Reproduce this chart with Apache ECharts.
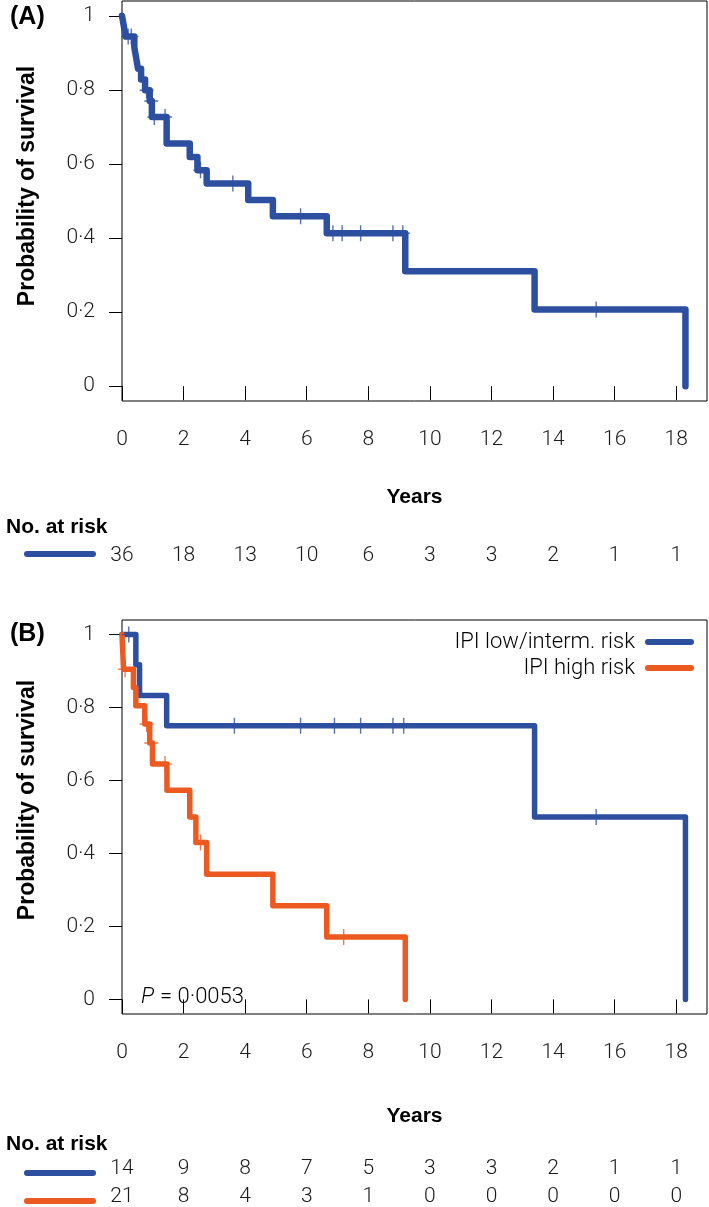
<!DOCTYPE html>
<html>
<head>
<meta charset="utf-8">
<script src="https://cdn.jsdelivr.net/npm/echarts@6/dist/echarts.min.js"></script>
<style>
html,body{margin:0;padding:0;background:#fff;}
#chart{width:709px;height:1207px;}
</style>
</head>
<body>
<div id="chart"></div>
<script>
// ---- tick labels ----
const xTicks = [0, 2, 4, 6, 8, 10, 12, 14, 16, 18];
const yTicks = [0, 0.2, 0.4, 0.6, 0.8, 1];
const yTickLabels = ['0', '0·2', '0·4', '0·6', '0·8', '1'];

// ---- panel A: all patients ----
const allTimes = [0, 0.06, 0.12, 0.4, 0.46, 0.52, 0.62, 0.75, 0.9, 0.97, 1.45, 2.2, 2.45, 2.75, 4.1, 4.9, 6.65, 9.2, 13.4, 18.3];
const allSurv  = [1, 0.972, 0.944, 0.915, 0.886, 0.857, 0.828, 0.799, 0.770, 0.727, 0.655, 0.619, 0.583, 0.547, 0.503, 0.459, 0.413, 0.310, 0.207, 0];
const allCensorTimes = [0.2, 0.3, 0.8, 0.95, 1.05, 1.4, 2.55, 3.6, 5.8, 6.85, 7.15, 7.75, 8.8, 9.12, 15.4];
const allCensorSurv  = [0.944, 0.944, 0.799, 0.770, 0.727, 0.727, 0.583, 0.547, 0.459, 0.413, 0.413, 0.413, 0.413, 0.413, 0.207];
const riskAll = [36, 18, 13, 10, 6, 3, 3, 2, 1, 1];

// ---- panel B: IPI low/interm. risk ----
const lowTimes = [0, 0.45, 0.57, 1.45, 13.4, 18.3];
const lowSurv  = [1, 0.917, 0.833, 0.75, 0.5, 0];
const lowCensorTimes = [0.22, 3.65, 5.8, 6.9, 7.75, 8.8, 9.15, 15.4];
const lowCensorSurv  = [1, 0.75, 0.75, 0.75, 0.75, 0.75, 0.75, 0.5];
const riskLow = [14, 9, 8, 7, 5, 3, 3, 2, 1, 1];

// ---- panel B: IPI high risk ----
const highTimes = [0, 0.05, 0.37, 0.45, 0.74, 0.9, 0.99, 1.46, 2.2, 2.4, 2.75, 4.9, 6.65, 9.2];
const highSurv  = [1, 0.905, 0.855, 0.805, 0.755, 0.703, 0.645, 0.573, 0.50, 0.43, 0.343, 0.257, 0.171, 0];
const highCensorTimes = [0.1, 0.8, 0.95, 1.4, 2.55, 7.2];
const highCensorSurv  = [0.905, 0.755, 0.703, 0.645, 0.43, 0.171];
const riskHigh = [21, 8, 4, 3, 1, 0, 0, 0, 0, 0];

const seriesNames = ['IPI low/interm. risk', 'IPI high risk'];
const pText = '= 0·0053';

// ---- styles ----
const BLUE = '#2D4FA0';
const ORANGE = '#EC5A22';
const TXT = '#1a1a1a';
const LIGHT = "Roboto, 'Liberation Sans', Arial, sans-serif";
const BOLD = "'Liberation Sans', Arial, sans-serif";
const PLUS = 'path://M0,7.3H6.3V0H7.7V7.3H14V8.7H7.7V16H6.3V8.7H0Z';

const zip = (a, b) => a.map((v, i) => [v, b[i]]);

const GA = {left: 122, top: 1, width: 585, height: 400};
const GB = {left: 122, top: 620, width: 585, height: 400};

function mainX(grid) {
  return {
    type: 'value', gridIndex: grid, min: 0, max: 19, interval: 2,
    axisLine: {show: false},
    splitLine: {show: false},
    axisTick: {show: true, customValues: xTicks, length: 14, lineStyle: {color: '#000', width: 1}},
    axisLabel: {show: true, customValues: xTicks, margin: 28, color: TXT, fontSize: 21, fontFamily: LIGHT, fontWeight: 300,
      formatter: v => (xTicks.indexOf(v) >= 0 ? String(v) : '')}
  };
}
function riskX(grid, arr, offset) {
  return {
    type: 'value', gridIndex: grid, min: 0, max: 19, interval: 2, position: 'bottom', offset: offset,
    axisLine: {show: false}, axisTick: {show: false}, splitLine: {show: false},
    axisLabel: {show: true, customValues: xTicks, margin: 9, color: TXT, fontSize: 21, fontFamily: LIGHT, fontWeight: 300,
      formatter: v => { const i = xTicks.indexOf(v); return i >= 0 ? String(arr[i]) : ''; }}
  };
}
function mainY(grid) {
  return {
    type: 'value', gridIndex: grid, min: -0.04, max: 1.04,
    axisLine: {show: false}, splitLine: {show: false},
    axisTick: {show: true, customValues: yTicks, length: 13, lineStyle: {color: '#000', width: 1}},
    axisLabel: {show: true, customValues: yTicks, margin: 27, color: TXT, fontSize: 21, fontFamily: LIGHT, fontWeight: 300,
      formatter: v => { const i = yTicks.findIndex(t => Math.abs(t - v) < 1e-6); return i >= 0 ? yTickLabels[i] : ''; }}
  };
}
function kmLine(name, xi, yi, t, s, color, w) {
  return {type: 'line', name, xAxisIndex: xi, yAxisIndex: yi, data: zip(t, s), step: 'end',
    symbol: 'none', showSymbol: false, silent: true,
    lineStyle: {color, width: w, cap: 'round', join: 'round'}, z: 3};
}
function censor(xi, yi, t, s, color) {
  return {type: 'scatter', xAxisIndex: xi, yAxisIndex: yi, data: zip(t, s), symbol: PLUS,
    symbolSize: [14, 16], itemStyle: {color}, silent: true, z: 5};
}
function txt(x, y, text, font, align, extra) {
  return Object.assign({type: 'text', x, y, silent: true,
    style: {text, font, fill: '#000', textAlign: align || 'left', textVerticalAlign: 'middle'}}, extra || {});
}
function swatch(x1, x2, y, color) {
  return {type: 'line', silent: true, shape: {x1, y1: y, x2, y2: y},
    style: {stroke: color, lineWidth: 6, lineCap: 'round'}};
}

const option = {
  animation: false,
  backgroundColor: '#fff',
  grid: [
    Object.assign({show: true, borderColor: '#000', borderWidth: 1, backgroundColor: 'transparent'}, GA),
    Object.assign({show: true, borderColor: '#000', borderWidth: 1, backgroundColor: 'transparent'}, GB)
  ],
  xAxis: [
    mainX(0),
    riskX(0, riskAll, 135),
    mainX(1),
    riskX(1, riskLow, 135),
    riskX(1, riskHigh, 163)
  ],
  yAxis: [mainY(0), mainY(1)],
  series: [
    kmLine('All', 0, 0, allTimes, allSurv, BLUE, 6.5),
    censor(0, 0, allCensorTimes, allCensorSurv, BLUE),
    kmLine(seriesNames[0], 2, 1, lowTimes, lowSurv, BLUE, 5.5),
    censor(2, 1, lowCensorTimes, lowCensorSurv, BLUE),
    kmLine(seriesNames[1], 2, 1, highTimes, highSurv, ORANGE, 5.5),
    censor(2, 1, highCensorTimes, highCensorSurv, ORANGE)
  ],
  graphic: [
    txt(10, 17, '(A)', "bold 25px " + BOLD),
    txt(10, 634, '(B)', "bold 25px " + BOLD),
    txt(28, 186, 'Probability of survival', "bold 23px " + BOLD, 'center', {rotation: Math.PI / 2}),
    txt(28, 800, 'Probability of survival', "bold 23px " + BOLD, 'center', {rotation: Math.PI / 2}),
    txt(414.5, 497, 'Years', "bold 21px " + BOLD, 'center'),
    txt(414.5, 1116, 'Years', "bold 21px " + BOLD, 'center'),
    txt(6, 527, 'No. at risk', "bold 21px " + BOLD),
    txt(6, 1144, 'No. at risk', "bold 21px " + BOLD),
    swatch(27, 93, 554, BLUE),
    swatch(27, 93, 1173, BLUE),
    swatch(27, 93, 1201, ORANGE),
    txt(635, 642, seriesNames[0], "300 22px " + LIGHT, 'right'),
    txt(635, 668, seriesNames[1], "300 22px " + LIGHT, 'right'),
    swatch(648, 691, 642, BLUE),
    swatch(648, 691, 668, ORANGE),
    txt(141, 997, 'P', "italic 300 22px " + LIGHT),
    txt(160, 997, pText, "300 22px " + LIGHT)
  ]
};

const chart = echarts.init(document.getElementById('chart'), null, {renderer: 'canvas'});
chart.setOption(option);
</script>
</body>
</html>
